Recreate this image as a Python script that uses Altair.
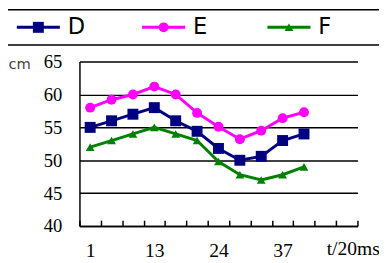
import altair as alt
import pandas as pd

# ---- data ----
idx = list(range(1, 12))
series_names = ["D", "E", "F"]
D_vals = [55, 56, 57, 58, 56, 54.4, 51.8, 50, 50.6, 53, 54]
E_vals = [58, 59.2, 60, 61.2, 60, 57.2, 55.1, 53.2, 54.5, 56.4, 57.3]
F_vals = [52, 53, 54, 55, 54, 53, 49.8, 47.8, 47, 47.8, 49]
colors = ["#000080", "#FF00FF", "#008000"]
shapes = ["square", "circle", "triangle-up"]
sizes = [125, 80, 140]
x_label_pos = [1, 4, 7, 10]
x_label_text = ["1", "13", "24", "37"]
y_ticks = [40, 45, 50, 55, 60, 65]
x_slots = 13

rows = []
for name, vals in zip(series_names, [D_vals, E_vals, F_vals]):
    for i, v in zip(idx, vals):
        rows.append({"series": name, "idx": i, "value": v})
df = pd.DataFrame(rows)
leg = pd.DataFrame({"series": series_names, "k": [0, 1, 2]})
box = pd.DataFrame({"a": [0]})

W, H = 284, 168
xscale = alt.Scale(domain=[0.5, x_slots + 0.5], nice=False, zero=False)
yscale = alt.Scale(domain=[40, 65], nice=False, zero=False)
color = alt.Color("series:N", scale=alt.Scale(domain=series_names, range=colors), legend=None)
shape = alt.Shape("series:N", scale=alt.Scale(domain=series_names, range=shapes), legend=None)
size = alt.Size("series:N", scale=alt.Scale(domain=series_names, range=sizes), legend=None)

expr = "''"
for p, t in zip(reversed(x_label_pos), reversed(x_label_text)):
    expr = f"datum.value == {p} ? '{t}' : ({expr})"

SERIF = "Liberation Serif"

yaxis = alt.Axis(values=y_ticks, grid=True, gridColor="black", gridWidth=1.5,
                 domain=True, domainColor="black", domainWidth=1.5,
                 ticks=False, tickSize=0, labelPadding=18,
                 labelFont=SERIF, labelFontSize=19, labelColor="black",
                 title="cm", titleAngle=0, titleX=-73, titleY=7, titleAlign="left",
                 titleBaseline="alphabetic", titleFont="DejaVu Sans", titleFontSize=15,
                 titleFontWeight="normal", titleColor="#444444")
yenc = alt.Y("value:Q", scale=yscale, axis=yaxis)

bottom_axis = alt.Axis(values=x_label_pos, labelExpr=expr, grid=False,
                       domain=True, domainColor="black", domainWidth=1.5,
                       ticks=False, tickSize=0, labelPadding=15,
                       labelFont=SERIF, labelFontSize=20, labelColor="black",
                       title="t/20ms", titleX=252, titleY=29, titleAlign="left",
                       titleBaseline="alphabetic", titleFont=SERIF, titleFontSize=20,
                       titleFontWeight="normal", titleColor="black")
top_axis = alt.Axis(orient="top", offset=-H, values=[i + 0.5 for i in range(x_slots + 1)],
                    labels=False, domain=False, grid=False, ticks=True, tickSize=6,
                    tickColor="black", tickWidth=1.5, title=None)

base = alt.Chart(df)
lines = base.mark_line(strokeWidth=3).encode(
    x=alt.X("idx:Q", scale=xscale, axis=bottom_axis), y=yenc, color=color, detail="series:N")
points = base.mark_point(filled=True, opacity=1).encode(
    x=alt.X("idx:Q", scale=xscale, axis=top_axis), y=yenc, color=color, shape=shape, size=size)
main = alt.layer(lines, points).resolve_axis(x="independent")

lx = alt.X("k:Q", scale=alt.Scale(domain=[0, 3], range=[-64, 320], nice=False, zero=False), axis=None)
leg_base = alt.Chart(leg)
leg_rule = leg_base.mark_rule(strokeWidth=3, x2Offset=44).encode(
    x=lx, x2="k:Q", y=alt.value(-35), color=color)
leg_pts = leg_base.mark_point(filled=True, opacity=1, xOffset=22).encode(
    x=lx, y=alt.value(-35), color=color, shape=shape, size=size)
leg_txt = leg_base.mark_text(align="left", baseline="middle", dx=52, fontSize=23,
                             font="DejaVu Sans", color="black").encode(
    x=lx, y=alt.value(-35), text="series:N")
leg_box = alt.Chart(box).mark_rect(fillOpacity=0, stroke="black", strokeWidth=1.5).encode(
    x=alt.value(-76), x2=alt.value(330), y=alt.value(-53), y2=alt.value(-17))
legend = alt.layer(leg_box, leg_rule, leg_pts, leg_txt)

chart = alt.layer(main, legend).resolve_scale(x="independent").properties(
    width=W, height=H,
    padding={"left": 73, "top": 52, "right": 22, "bottom": 35},
    autosize=alt.AutoSizeParams(type="none"),
).configure_view(stroke=None)

chart.save("out.html", embed_options={"renderer": "svg", "actions": False})
